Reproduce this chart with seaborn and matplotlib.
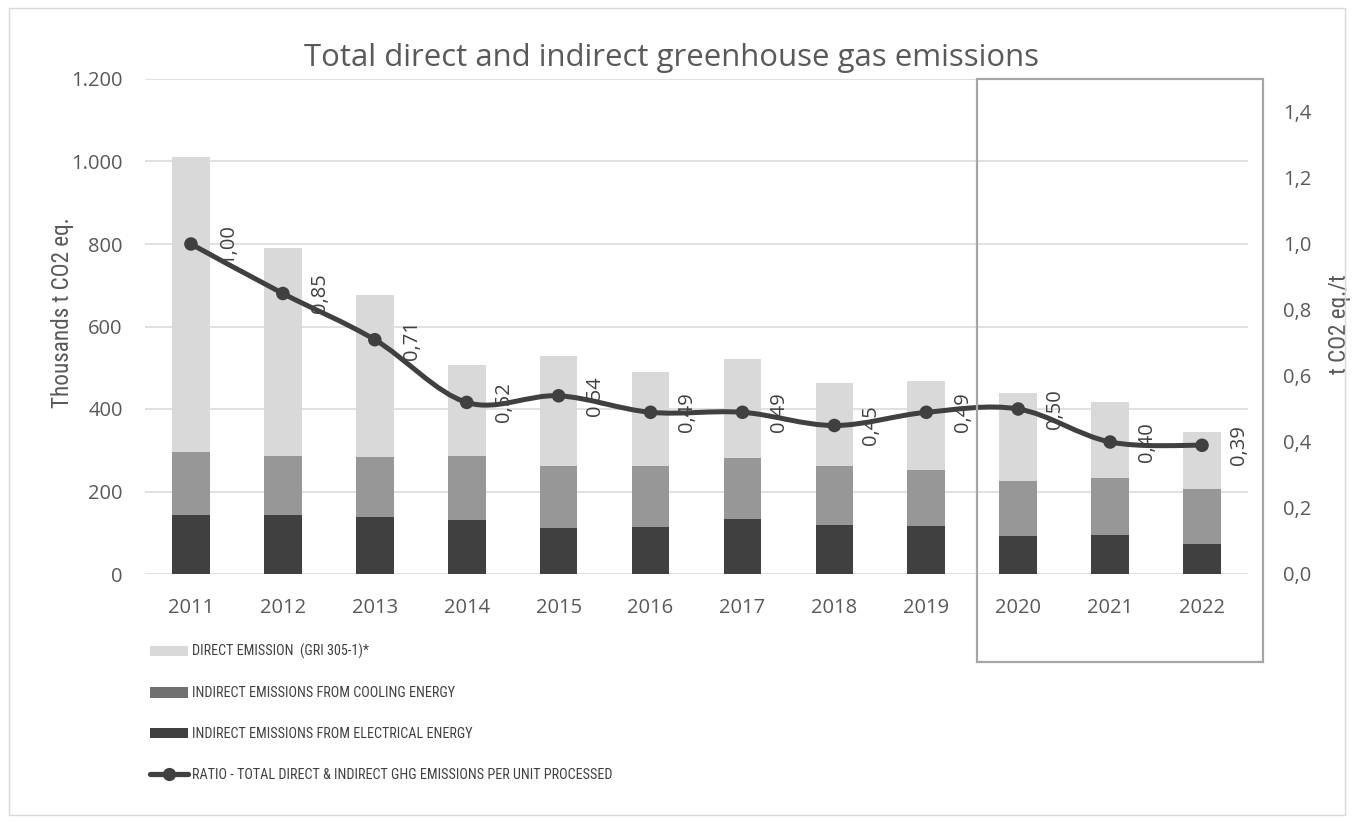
import numpy as np
import pandas as pd
import matplotlib
matplotlib.use("Agg")
import matplotlib.pyplot as plt
import seaborn as sns
from matplotlib.path import Path
from matplotlib.patches import PathPatch, Patch, Rectangle
from matplotlib.lines import Line2D
from matplotlib.ticker import FuncFormatter, FixedLocator
from matplotlib import font_manager
from matplotlib.font_manager import FontProperties

# ---- data -------------------------------------------------------------
years = ["2011", "2012", "2013", "2014", "2015", "2016",
         "2017", "2018", "2019", "2020", "2021", "2022"]
direct_emission = [715, 504, 392, 220, 266, 227, 240, 200, 216, 215, 183, 139]
cooling_emission = [154, 143, 146, 154, 151, 149, 147, 143, 136, 132, 138, 133]
electrical_emission = [142, 143, 138, 132, 112, 114, 134, 120, 116, 93, 95, 72]
ratio = [1.00, 0.85, 0.71, 0.52, 0.54, 0.49, 0.49, 0.45, 0.49, 0.50, 0.40, 0.39]

left_ticks = [0, 200, 400, 600, 800, 1000, 1200]
right_ticks = [0.0, 0.2, 0.4, 0.6, 0.8, 1.0, 1.2, 1.4]

title = "Total direct and indirect greenhouse gas emissions"
left_label = "Thousands t CO2 eq."
right_label = "t CO2 eq./t"
legend_labels = ["DIRECT EMISSION  (GRI 305-1)*",
                 "INDIRECT EMISSIONS FROM COOLING ENERGY",
                 "INDIRECT EMISSIONS FROM ELECTRICAL ENERGY",
                 "RATIO - TOTAL DIRECT & INDIRECT GHG EMISSIONS PER UNIT PROCESSED"]

# ---- styling ----------------------------------------------------------
C_DIRECT = "#d9d9d9"
C_COOL = "#979797"
C_ELEC = "#404040"
C_LINE = "#404040"
C_TEXT = "#595959"
C_GRID = "#d9d9d9"

sns.set_theme(style="white")
plt.rcParams["font.family"] = ["Open Sans", "DejaVu Sans"]


def condensed_font():
    """Pick a narrow sans-serif face for the axis titles and legend."""
    found = {}
    for f in font_manager.fontManager.ttflist:
        st = str(f.stretch)
        narrow_face = ("Narrow" in f.name or "Condensed" in f.name
                       or st in ("condensed", "semi-condensed"))
        if narrow_face and f.style == "normal" and str(f.weight) in ("400", "normal", "regular"):
            found.setdefault(f.name, f.fname)
    prefs = ["Liberation Sans Narrow", "Open Sans Condensed", "Noto Sans Condensed",
             "DejaVu Sans Condensed", "Roboto Condensed", "Noto Sans", "Open Sans",
             "DejaVu Sans", "Roboto"]
    for p in prefs:
        if p in found:
            return FontProperties(fname=found[p]), True
    if found:
        return FontProperties(fname=found[sorted(found)[0]]), True
    return FontProperties(family="Roboto"), False


narrow_fp, is_narrow = condensed_font()


def narrow(size):
    fp = narrow_fp.copy()
    fp.set_size(size if is_narrow else size * 0.82)
    return fp


df = pd.DataFrame({
    "year": years,
    "direct": direct_emission,
    "cooling": cooling_emission,
    "electrical": electrical_emission,
})
df["elec_top"] = df["electrical"]
df["cool_top"] = df["electrical"] + df["cooling"]
df["total"] = df["cool_top"] + df["direct"]

W, H = 1353, 823
fig = plt.figure(figsize=(W / 100, H / 100), dpi=100)
ax = fig.add_axes([145 / W, 1 - 574 / H, (1248 - 145) / W, (574 - 79) / H])

bar_w = 0.41
for col, color in [("total", C_DIRECT), ("cool_top", C_COOL), ("elec_top", C_ELEC)]:
    sns.barplot(data=df, x="year", y=col, color=color, width=bar_w,
                saturation=1, errorbar=None, linewidth=0, ax=ax, zorder=2)

ax.set_xlim(-0.5, len(years) - 0.5)
ax.set_ylim(0, 1200)
ax.yaxis.set_major_locator(FixedLocator(left_ticks))
ax.yaxis.set_major_formatter(FuncFormatter(lambda v, _: f"{int(v):,}".replace(",", ".")))
ax.grid(axis="y", color=C_GRID, linewidth=1.1, zorder=0)
ax.set_axisbelow(True)
for s in ax.spines.values():
    s.set_visible(False)
ax.tick_params(axis="y", length=0, pad=16, labelsize=14.5, labelcolor=C_TEXT)
ax.tick_params(axis="x", length=0, pad=17, labelsize=14.5, labelcolor=C_TEXT)
ax.set_xlabel("")
ax.set_ylabel(left_label, color=C_TEXT, fontproperties=narrow(16.7))
ax.yaxis.set_label_coords(-0.064, 0.528)

# ---- ratio on secondary axis -----------------------------------------
ax2 = ax.twinx()
ax2.set_ylim(0, 1.5)
ax2.yaxis.set_major_locator(FixedLocator(right_ticks))
ax2.yaxis.set_major_formatter(FuncFormatter(lambda v, _: f"{v:.1f}".replace(".", ",")))
ax2.grid(False)
for s in ax2.spines.values():
    s.set_visible(False)
ax2.tick_params(axis="y", length=0, pad=25, labelsize=14.5, labelcolor=C_TEXT)
ax2.set_ylabel(right_label, color=C_TEXT, fontproperties=narrow(16.7), rotation=90)
ax2.yaxis.set_label_coords(1.0725, 0.505)

# smoothed line through the ratio points (cubic Bezier segments)
pts = np.column_stack([np.arange(len(ratio), dtype=float), np.asarray(ratio, dtype=float)])
n = len(pts)
verts = [pts[0]]
codes = [Path.MOVETO]
for i in range(n - 1):
    p0 = pts[max(i - 1, 0)]
    p1 = pts[i]
    p2 = pts[i + 1]
    p3 = pts[min(i + 2, n - 1)]
    c1 = p1 + (p2 - p0) / 6.0
    c2 = p2 - (p3 - p1) / 6.0
    verts += [c1, c2, p2]
    codes += [Path.CURVE4] * 3
ax2.add_patch(PathPatch(Path(verts, codes), facecolor="none", edgecolor=C_LINE,
                        linewidth=3.6, capstyle="round", joinstyle="round", zorder=3))
sns.scatterplot(x=pts[:, 0], y=pts[:, 1], ax=ax2, s=95, color=C_LINE,
                edgecolor="none", zorder=4, legend=False)

for x, v in zip(pts[:, 0], ratio):
    ax2.annotate(f"{v:.2f}".replace(".", ","), (x, v), xytext=(26.5, 0),
                 textcoords="offset points", rotation=90, ha="center", va="center",
                 fontsize=14.5, color=C_LINE, zorder=5)

# ---- title, frames, legend -------------------------------------------
fig.text(672 / W, 1 - 58 / H, title, ha="center", va="center",
         fontsize=22.4, color=C_TEXT)

fig.patches.append(Rectangle((9 / W, 1 - 815 / H), (1345 - 9) / W, (815 - 8) / H,
                             transform=fig.transFigure, fill=False,
                             edgecolor="#d9d9d9", linewidth=1.0))
fig.patches.append(Rectangle((977 / W, 1 - 662 / H), (1263 - 977) / W, (662 - 79) / H,
                             transform=fig.transFigure, fill=False,
                             edgecolor="#a6a6a6", linewidth=1.6))

handles = [
    Patch(facecolor=C_DIRECT, edgecolor="none"),
    Patch(facecolor="#707070", edgecolor="none"),
    Patch(facecolor=C_ELEC, edgecolor="none"),
    Line2D([0], [0], color=C_LINE, linewidth=3.8, marker="o", markersize=8.5),
]
leg_fp = narrow(10.2)
leg = fig.legend(handles, legend_labels, loc="upper left",
                 bbox_to_anchor=(150 / W, 1 - 644 / H), frameon=False,
                 borderpad=0, borderaxespad=0, handlelength=2.7,
                 handleheight=0.75, handletextpad=0.28, labelspacing=1.9,
                 prop=leg_fp)
for t in leg.get_texts():
    t.set_color(C_LINE)

fig.savefig("out.png", dpi=100)
